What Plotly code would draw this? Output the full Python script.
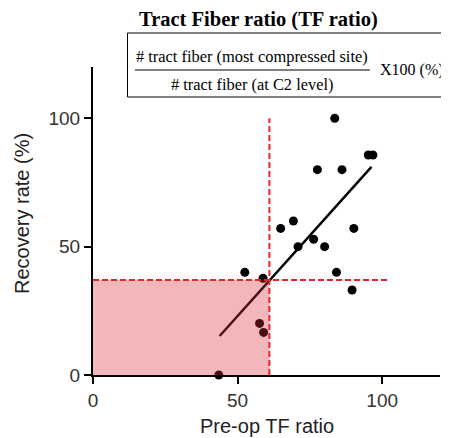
import plotly.graph_objects as go

# Data
tf_ratio = [83.6, 95.2, 96.8, 77.6, 86.1, 64.9, 69.3, 90.2, 70.9, 76.3, 80.1,
            52.5, 84.2, 58.8, 89.6, 57.6, 59.0, 43.5]
recovery = [100, 85.7, 85.7, 80, 80, 57.1, 60, 57.1, 50, 52.9, 50,
            40, 40, 37.7, 33.1, 20.1, 16.6, 0]
fit_x = [43.8, 96.3]
fit_y = [15.2, 81.1]
cutoff_x = 61
cutoff_y = 37
vline_top = 100
hline_right = 102.5
x_ticks = [0, 50, 100]
y_ticks = [0, 50, 100]

fig = go.Figure()
fig.add_trace(go.Scatter(x=fit_x, y=fit_y, mode="lines",
                         line=dict(color="black", width=2.5), showlegend=False))
fig.add_trace(go.Scatter(x=tf_ratio, y=recovery, mode="markers",
                         marker=dict(color="black", size=9), cliponaxis=False,
                         showlegend=False))

red = "#e8242a"
fig.add_shape(type="rect", x0=0, x1=cutoff_x, y0=0, y1=cutoff_y, xref="x", yref="y",
              fillcolor="rgba(218,45,55,0.34)", line=dict(width=0), layer="above")
fig.add_shape(type="line", x0=cutoff_x, x1=cutoff_x, y0=0, y1=vline_top, xref="x", yref="y",
              line=dict(color=red, width=2, dash="6px,3px"), layer="above")
fig.add_shape(type="line", x0=0, x1=hline_right, y0=cutoff_y, y1=cutoff_y, xref="x", yref="y",
              line=dict(color=red, width=2, dash="6px,3px"), layer="above")

# page body has an 8px margin, so the figure is offset by 8px
OFF = 8
FW, FH = 449 - OFF, 438 - OFF
L = 93 - OFF
R = 9
T = 67 - OFF
B = FH - (375 - OFF)
W = FW - L - R
H = FH - T - B

def px(x):
    return (x - OFF - L) / W
def py(y):
    return (FH - B - (y - OFF)) / H

fig.add_shape(type="rect", xref="paper", yref="paper",
              x0=px(127.5), x1=px(447), y0=py(97), y1=py(33),
              line=dict(color="black", width=1), fillcolor="rgba(0,0,0,0)")
fig.add_shape(type="line", xref="paper", yref="paper",
              x0=px(135), x1=px(370), y0=py(70), y1=py(70),
              line=dict(color="black", width=1.2))

serif = "Liberation Serif"
def note(text, x, y, size, family=serif, color="black", angle=0):
    fig.add_annotation(text=text, xref="paper", yref="paper", x=px(x), y=py(y),
                       xanchor="center", yanchor="middle", showarrow=False,
                       textangle=angle, font=dict(family=family, size=size, color=color))

note("<b>Tract Fiber ratio (TF ratio)</b>", 258, 19.5, 20.5)
note("# tract fiber (most compressed site)", 252, 57, 16.4)
note("# tract fiber (at C2 level)", 252, 85, 16.4)
note("X100 (%)", 412, 70, 16)
note("Pre-op TF ratio", 267, 426, 20, family="Liberation Sans", color="#222")
note("Recovery rate (%)", 22, 214, 20, family="Liberation Sans", color="#222", angle=-90)

axis_common = dict(showgrid=False, zeroline=False, showline=True, linecolor="black",
                   linewidth=2, ticks="outside", ticklen=7, tickwidth=2, tickcolor="black",
                   tickfont=dict(family="Liberation Sans", size=19, color="#333"),
                   range=[0, 120], automargin=False)
fig.update_xaxes(**axis_common, tickvals=x_ticks)
fig.update_yaxes(**axis_common, tickvals=y_ticks)

fig.update_layout(width=FW, height=FH, margin=dict(l=L, r=R, t=T, b=B, autoexpand=False),
                  plot_bgcolor="white", paper_bgcolor="white")
fig.write_html("out.html")
